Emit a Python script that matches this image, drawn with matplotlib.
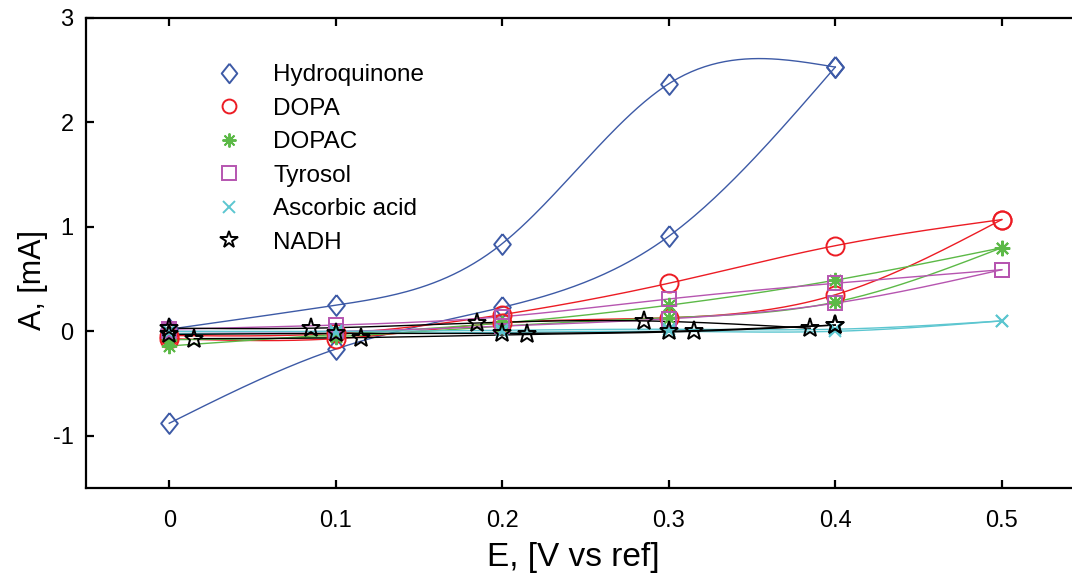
import numpy as np
import matplotlib
matplotlib.use("Agg")
import matplotlib.pyplot as plt
from matplotlib.lines import Line2D

plt.rcParams['font.family'] = ['Liberation Sans', 'DejaVu Sans']
plt.rcParams['axes.unicode_minus'] = False

# potential points (V vs ref)
E = [0.0, 0.1, 0.2, 0.3, 0.4, 0.5]
E4 = [0.0, 0.1, 0.2, 0.3, 0.4]

# current (mA) - forward / reverse branches
hq_fwd = [0.02, 0.25, 0.84, 2.37, 2.53]
hq_rev = [-0.88, -0.17, 0.23, 0.91, 2.53]
dopa_fwd = [-0.04, -0.02, 0.16, 0.46, 0.82, 1.07]
dopa_rev = [-0.07, -0.07, 0.08, 0.13, 0.35, 1.07]
dopac_fwd = [-0.14, -0.03, 0.08, 0.25, 0.49, 0.80]
dopac_rev = [-0.08, -0.05, 0.05, 0.13, 0.28, 0.80]
tyr_fwd = [0.02, 0.06, 0.14, 0.31, 0.46, 0.59]
tyr_rev = [0.0, 0.0, 0.05, 0.12, 0.27, 0.59]
asc_fwd = [0.0, 0.0, 0.01, 0.02, 0.02, 0.10]
asc_rev = [-0.02, -0.02, -0.01, 0.0, 0.0, 0.10]

# NADH recorded on shifted potentials
nadh_E1 = [0.0, 0.085, 0.185, 0.285, 0.385]
nadh_I1 = [0.03, 0.03, 0.08, 0.10, 0.03]
nadh_E2 = [0.0, 0.1, 0.2, 0.3, 0.4]
nadh_I2 = [-0.03, -0.02, -0.02, 0.0, 0.06]
nadh_E3 = [0.015, 0.115, 0.215, 0.315, 0.4]
nadh_I3 = [-0.07, -0.06, -0.03, 0.0, 0.06]

labels = ['Hydroquinone', 'DOPA', 'DOPAC', 'Tyrosol', 'Ascorbic acid', 'NADH']
colors = ['#3D5AA6', '#EC1C24', '#5CB947', '#B655B0', '#5CC6D0', '#000000']
DIAMOND = [(0, 1), (0.8, 0), (0, -1), (-0.8, 0), (0, 1)]
markers = [DIAMOND, 'o', (8, 2, 0), 's', 'x', '*']
msizes = [15, 13, 11, 9.5, 9, 14]
leg_sizes = [14, 10, 10, 9.5, 8.5, 13]


def spline(x, y, n=200):
    # natural cubic spline through the points of one branch
    x = np.asarray(x, float)
    y = np.asarray(y, float)
    k = len(x)
    h = np.diff(x)
    A = np.zeros((k, k))
    b = np.zeros(k)
    A[0, 0] = A[-1, -1] = 1
    for i in range(1, k - 1):
        A[i, i - 1] = h[i - 1]
        A[i, i] = 2 * (h[i - 1] + h[i])
        A[i, i + 1] = h[i]
        b[i] = 3 * ((y[i + 1] - y[i]) / h[i] - (y[i] - y[i - 1]) / h[i - 1])
    c = np.linalg.solve(A, b)
    xs = np.linspace(x[0], x[-1], n)
    idx = np.clip(np.searchsorted(x, xs) - 1, 0, k - 2)
    dx = xs - x[idx]
    bc = (y[1:] - y[:-1]) / h - h * (2 * c[:-1] + c[1:]) / 3
    d = (c[1:] - c[:-1]) / (3 * h)
    ys = y[idx] + bc[idx] * dx + c[idx] * dx ** 2 + d[idx] * dx ** 3
    return xs, ys


fig = plt.figure(figsize=(10.72, 5.78), dpi=100)
ax = fig.add_axes([86 / 1072, 1 - 488 / 578, 999 / 1072, 470 / 578])

series = [
    (0, [(E4, hq_fwd), (E4, hq_rev)]),
    (1, [(E, dopa_fwd), (E, dopa_rev)]),
    (2, [(E, dopac_fwd), (E, dopac_rev)]),
    (3, [(E, tyr_fwd), (E, tyr_rev)]),
    (4, [(E, asc_fwd), (E, asc_rev)]),
    (5, [(nadh_E1, nadh_I1), (nadh_E2, nadh_I2), (nadh_E3, nadh_I3)]),
]

for k, branches in series:
    for ex, cur in branches:
        xs, ys = spline(ex, cur)
        ax.plot(xs, ys, '-', color=colors[k], lw=1.0, zorder=2)
        ax.plot(ex, cur, ls='none', marker=markers[k], ms=msizes[k],
                mec=colors[k], mfc='none', mew=1.4, zorder=3)

handles = [Line2D([], [], ls='none', marker=markers[k], ms=leg_sizes[k],
                  mec=colors[k], mfc='none', mew=1.4) for k in range(6)]
ax.legend(handles, labels, loc='upper left', bbox_to_anchor=(0.107, 0.927),
          frameon=False, fontsize=17.5, labelspacing=0.47, handletextpad=0.8,
          borderpad=0)

ax.set_xlim(-0.05, 0.55)
ax.set_ylim(-1.5, 3)
ax.set_xticks([0, 0.1, 0.2, 0.3, 0.4, 0.5])
ax.set_xticklabels(['0', '0.1', '0.2', '0.3', '0.4', '0.5'], fontsize=18)
ax.set_yticks([-1, 0, 1, 2, 3])
ax.tick_params(direction='in', length=6, width=1.6, labelsize=17,
               top=True, right=True)
ax.tick_params(axis='x', pad=16)
ax.tick_params(axis='y', pad=9)
for s in ax.spines.values():
    s.set_linewidth(1.6)

ax.set_xlabel('E, [V vs ref]', fontsize=24)
ax.set_ylabel('A, [mA]', fontsize=22)
ax.xaxis.set_label_coords(0.4875, -0.115)
ax.yaxis.set_label_coords(-0.038, 0.4425)

fig.savefig('out.png', dpi=100)
